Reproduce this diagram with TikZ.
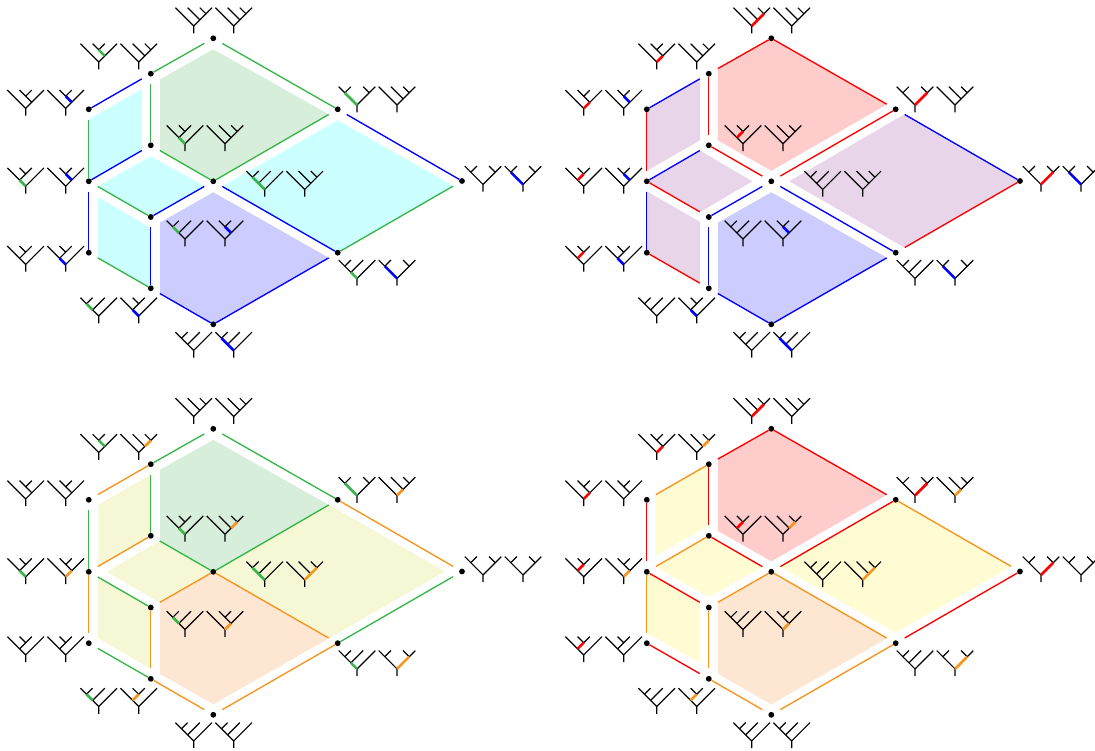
\documentclass[tikz,border=0pt]{standalone}
\usepackage{amsmath,amssymb}
\usepackage{xcolor}
\usetikzlibrary{backgrounds}

\definecolor{colgreen}{HTML}{39B54A}
\definecolor{colred}{HTML}{FF0000}
\definecolor{colblue}{HTML}{0000FF}
\definecolor{colorange}{HTML}{F7941D}
\definecolor{fillgreen}{HTML}{D7EEDA}
\definecolor{fillred}{HTML}{FFCCCC}
\definecolor{fillblue}{HTML}{CCCCFF}
\definecolor{fillorange}{HTML}{FDE6D2}
\definecolor{mixgb}{HTML}{CCFFFF}
\definecolor{mixrb}{HTML}{E9D5EA}
\definecolor{mixgo}{HTML}{F5F7D5}
\definecolor{mixro}{HTML}{FFFBD3}

\tikzset{
  vertexdot/.style={circle,fill=black,inner sep=0pt,minimum size=5.8pt},
  treeline/.style={line width=1.2pt,black},
  hiline/.style={line width=2.6pt},
  latticeedge/.style={line width=1.35pt},
  pics/treebase/.style={code={\draw[treeline] (-3,-3) -- (0,0) -- (3,-3) (0,0) -- (0,1.2);}},
  pics/treeA/.style={code={\pic{treebase}; \draw[treeline] (-1,-3) -- (1,-1) (1,-3) -- (2,-2);}},
  pics/treeB/.style={code={\pic{treebase}; \draw[treeline] (1,-1) -- (0,-2) (-1,-3) -- (0,-2) -- (1,-3);}},
  pics/treeC/.style={code={\pic{treebase}; \draw[treeline] (-1,-3) -- (-2,-2) (1,-3) -- (2,-2);}},
  pics/treeD/.style={code={\pic{treebase}; \draw[treeline] (-1,-1) -- (0,-2) (-1,-3) -- (0,-2) -- (1,-3);}},
  pics/treeE/.style={code={\pic{treebase}; \draw[treeline] (1,-3) -- (-1,-1) (-1,-3) -- (-2,-2);}},
}

\newcommand{\cor}[3]{([shift={(#2,#3)}]#1.center)}

\newcommand{\leftedges}{T/A,T/U,A/D,B/E,D/C,U/C,W/S,E/F,G/H}
\newcommand{\rightedges}{A/B,D/E,U/W,C/F,C/S,E/G,F/H,H/K,S/K}

\newcommand{\hlgreen}{AL/1/-1/0/-2,EL/0/0/-1/-1,DL/0/0/-1/-1,CL/0/0/-2/-2,FL/-1/-1/-2/-2,HL/-1/-1/-2/-2,UL/0/0/-2/-2,SL/0/0/-1/-1}
\newcommand{\hlred}{TL/0/0/2/-2,AL/0/0/1/-1,BL/0/0/1/-1,EL/-1/-1/0/-2,GL/-1/-1/0/-2,DL/-1/-1/0/-2,UL/0/0/2/-2,WL/0/0/2/-2}
\newcommand{\hlblue}{BR/1/-1/0/-2,ER/1/-1/0/-2,GR/0/0/-1/-1,FR/1/-1/0/-2,HR/0/0/-1/-1,KR/0/0/-2/-2,WR/0/0/-2/-2,SR/0/0/-2/-2}
\newcommand{\hlorange}{AR/1/-1/2/-2,ER/0/0/1/-1,DR/1/-1/2/-2,CR/0/0/2/-2,FR/0/0/1/-1,HR/-1/-1/0/-2,UR/0/0/1/-1,SR/0/0/2/-2}

\newcommand{\latticenodes}{
  \foreach \n/\x/\y in {T/213.5/38.3,A/151/73.7,B/89/109.3,D/151/145.3,E/89/181.3,C/213.5/181.3,U/337.9/109.3,W/462.2/181,S/337.9/252.7,F/151/217,G/89/252.7,H/151/288.3,K/213.5/324.3}
    \node[vertexdot] (\n) at (\x,\y) {};
  \foreach \n/\dx/\dy in {T/-19.6/-12.3,A/-52.1/-11.7,B/-63.1/-0.9,E/-63.1/4.9,G/-63.1/11.7,D/34.2/-1.6,C/51.4/8.1,F/34.2/22,H/-52.1/27.7,K/-19.6/26.1,U/19.3/-4.3,S/19.3/25.7,W/21/3.4} {
    \coordinate (\n L) at ([shift={(\dx,\dy)}]\n.center);
    \coordinate (\n R) at ([shift={(\dx+40,\dy)}]\n.center);
  }
}

\newcommand{\alltrees}{
  \foreach \p/\t in {TL/treeA,TR/treeA,AL/treeB,AR/treeA,BL/treeB,BR/treeB,EL/treeD,ER/treeB,GL/treeD,GR/treeD,DL/treeD,DR/treeA,CL/treeE,CR/treeA,FL/treeE,FR/treeB,HL/treeE,HR/treeD,KL/treeE,KR/treeE,UL/treeC,UR/treeA,WL/treeC,WR/treeC,SL/treeE,SR/treeC}
    \pic[x=6.1pt,y=-6.1pt] at (\p) {\t};
}

\newcommand{\hitrees}[2]{
  \foreach \p/\a/\b/\c/\d in #1
    \draw[hiline,#2] ([shift={(\a*6.1,\b*6.1)}]\p) -- ([shift={(\c*6.1,\d*6.1)}]\p);
}

\newcommand{\topgreen}{\fill[fillgreen] \cor{T}{0}{11} -- \cor{U}{-9}{5} -- \cor{C}{0}{0} -- \cor{D}{9.3}{5} -- \cor{A}{9.3}{5.5} -- cycle;}
\newcommand{\topred}{\fill[fillred] \cor{T}{0}{0} -- \cor{U}{-8.6}{-5} -- \cor{C}{0}{-10.5} -- \cor{D}{9}{-5} -- \cor{A}{9}{-5} -- cycle;}
\newcommand{\botblue}{\fill[fillblue] \cor{C}{0}{11} -- \cor{S}{-9}{5} -- \cor{K}{0}{0} -- \cor{H}{9.3}{5} -- \cor{F}{9.3}{5.5} -- cycle;}
\newcommand{\botorange}{\fill[fillorange] \cor{C}{0}{0} -- \cor{S}{-8.7}{-5} -- \cor{K}{0}{-10.5} -- \cor{H}{9}{-5} -- \cor{F}{9}{-5} -- cycle;}

\begin{document}
\begin{tikzpicture}[x=1pt,y=-1pt]
\useasboundingbox (0,0) rectangle (1095,751);

\begin{scope}[shift={(-0.2,0)}]
\latticenodes
\begin{scope}[on background layer]
\topgreen \botblue
\fill[mixgb] \cor{A}{-8.6}{15.3} -- \cor{D}{-8.6}{5} -- \cor{E}{0}{0} -- \cor{B}{0}{10} -- cycle;
\fill[mixgb] \cor{D}{0}{11} -- \cor{C}{-8.4}{5} -- \cor{F}{0}{0} -- \cor{E}{8.7}{5} -- cycle;
\fill[mixgb] \cor{E}{8.7}{15.5} -- \cor{F}{0}{11} -- \cor{H}{0}{0} -- \cor{G}{8.7}{5} -- cycle;
\fill[mixgb] \cor{U}{0}{11} -- \cor{W}{-8.5}{5} -- \cor{S}{0}{0} -- \cor{C}{9}{5} -- cycle;
\end{scope}
\foreach \s/\t in \leftedges \draw[latticeedge,colgreen,shorten <=7.3pt] (\s) -- (\t);
\foreach \s/\t in \rightedges \draw[latticeedge,colblue,shorten <=7.3pt] (\s) -- (\t);
\alltrees
\hitrees{\hlgreen}{colgreen}
\hitrees{\hlblue}{colblue}
\end{scope}

\begin{scope}[shift={(557.8,0)}]
\latticenodes
\begin{scope}[on background layer]
\topred \botblue
\fill[mixrb] \cor{A}{-8.6}{5.3} -- \cor{D}{-8.6}{-5} -- \cor{E}{0}{-10.5} -- \cor{B}{0}{0} -- cycle;
\fill[mixrb] \cor{E}{0}{0} -- \cor{D}{-8.6}{5.5} -- \cor{C}{-19}{0} -- \cor{F}{-8.6}{-5} -- cycle;
\fill[mixrb] \cor{E}{0}{10} -- \cor{F}{-8.6}{5} -- \cor{H}{-8.6}{-5} -- \cor{G}{0}{0} -- cycle;
\fill[mixrb] \cor{C}{18}{0} -- \cor{U}{8.7}{5} -- \cor{W}{0}{0} -- \cor{S}{9}{-5} -- cycle;
\end{scope}
\foreach \s/\t in \leftedges \draw[latticeedge,colred,shorten >=7.3pt] (\s) -- (\t);
\foreach \s/\t in \rightedges \draw[latticeedge,colblue,shorten <=7.3pt] (\s) -- (\t);
\alltrees
\hitrees{\hlred}{colred}
\hitrees{\hlblue}{colblue}
\end{scope}

\begin{scope}[shift={(-0.2,390.5)}]
\latticenodes
\begin{scope}[on background layer]
\topgreen \botorange
\fill[mixgo] \cor{A}{0}{10.5} -- \cor{D}{0}{0} -- \cor{E}{9.5}{-5.5} -- \cor{B}{9.5}{5} -- cycle;
\fill[mixgo] \cor{D}{9}{5} -- \cor{C}{0}{0} -- \cor{F}{9}{-5} -- \cor{E}{18}{0} -- cycle;
\fill[mixgo] \cor{E}{9}{5} -- \cor{F}{0}{0} -- \cor{H}{0}{-10} -- \cor{G}{9}{-5} -- cycle;
\fill[mixgo] \cor{C}{0}{0} -- \cor{U}{-8.7}{5} -- \cor{W}{-17}{0} -- \cor{S}{-8.7}{-5} -- cycle;
\end{scope}
\foreach \s/\t in \leftedges \draw[latticeedge,colgreen,shorten <=7.3pt] (\s) -- (\t);
\foreach \s/\t in \rightedges \draw[latticeedge,colorange,shorten >=7.3pt] (\s) -- (\t);
\alltrees
\hitrees{\hlgreen}{colgreen}
\hitrees{\hlorange}{colorange}
\end{scope}

\begin{scope}[shift={(557.8,390.5)}]
\latticenodes
\begin{scope}[on background layer]
\topred \botorange
\fill[mixro] \cor{A}{0}{0} -- \cor{D}{0}{-10} -- \cor{E}{8.6}{-16} -- \cor{B}{8.6}{-4.5} -- cycle;
\fill[mixro] \cor{D}{0}{0} -- \cor{C}{-8.6}{-5} -- \cor{F}{0}{-10.3} -- \cor{E}{8.6}{-5} -- cycle;
\fill[mixro] \cor{E}{0}{0} -- \cor{F}{-8.6}{-5} -- \cor{H}{-8.6}{-16} -- \cor{G}{0}{-10} -- cycle;
\fill[mixro] \cor{U}{0}{0} -- \cor{W}{-8.6}{-5} -- \cor{S}{0}{-10.5} -- \cor{C}{8.6}{-5} -- cycle;
\end{scope}
\foreach \s/\t in \leftedges \draw[latticeedge,colred,shorten >=7.3pt] (\s) -- (\t);
\foreach \s/\t in \rightedges \draw[latticeedge,colorange,shorten >=7.3pt] (\s) -- (\t);
\alltrees
\hitrees{\hlred}{colred}
\hitrees{\hlorange}{colorange}
\end{scope}
\end{tikzpicture}
\end{document}
